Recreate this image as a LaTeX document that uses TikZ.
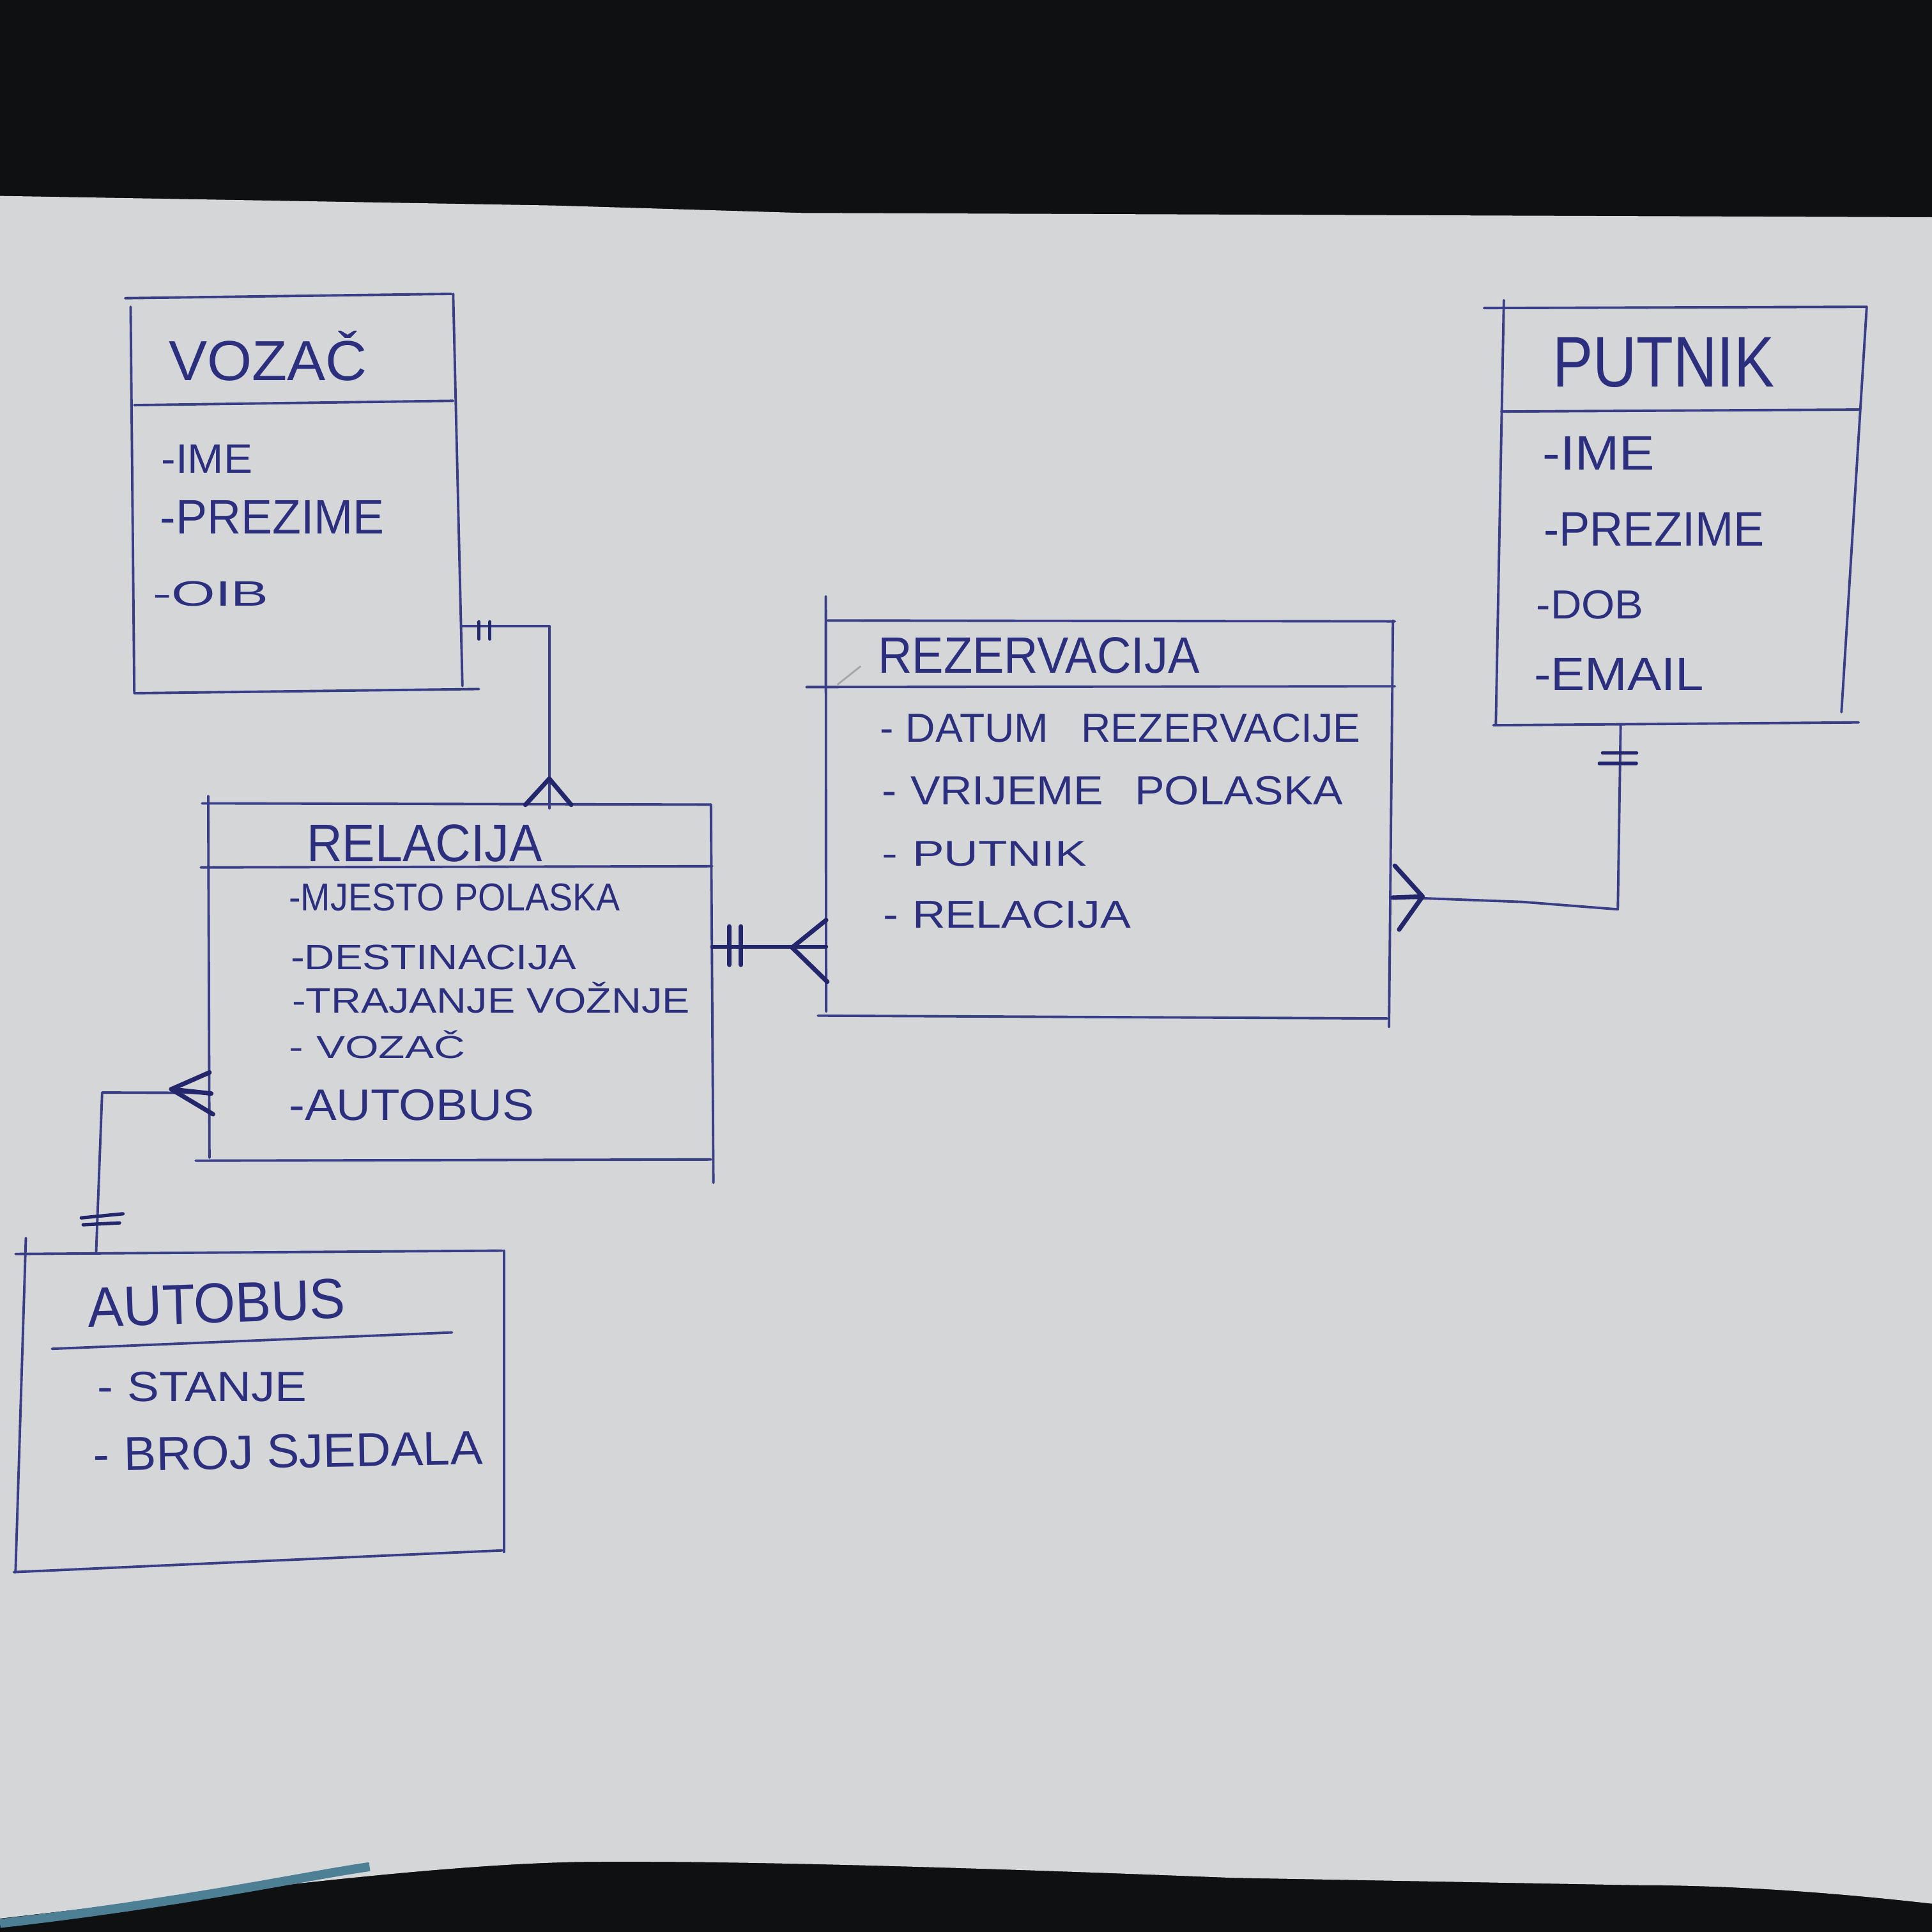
\documentclass[tikz,border=0pt]{standalone}
\usepackage{fontspec}
\setmainfont{Liberation Sans}
\usepackage{graphicx}
\newlength\ulen
\setlength\ulen{0.019286cm}
\newcommand\hw[3]{\resizebox{#1\ulen}{#2\ulen}{#3}}
\definecolor{paper}{HTML}{D4D6D8}
\definecolor{bgdark}{HTML}{0E1012}
\definecolor{inkline}{HTML}{3A3E86}
\definecolor{inktext}{HTML}{2C2F7E}
\definecolor{inkheavy}{HTML}{23266A}
\definecolor{tealedge}{HTML}{4D7F95}
\begin{document}
\begin{tikzpicture}[x=0.019286cm,y=-0.019286cm,
  boxline/.style={draw=inkline,line width=1.1pt,line cap=round,line join=round},
  crow/.style={draw=inkheavy,line width=2pt,line cap=round},
  bar/.style={draw=inkheavy,line width=1.5pt,line cap=round},
  lbl/.style={anchor=base west,inner sep=0pt,outer sep=0pt,text=inktext}]
\useasboundingbox (0,0) rectangle (1568,1568);
% background and paper
\fill[bgdark] (0,0) rectangle (1568,1568);
\fill[paper] (0,159) -- (450,166.8) -- (650,172.8) -- (1568,176.3) -- (1568,1545)
  .. controls (1480,1535) and (1400,1530) .. (1330,1530) -- (1000,1524)
  .. controls (800,1516) and (600,1510) .. (480,1511)
  .. controls (350,1512) and (150,1540) .. (0,1557) -- cycle;
\draw[tealedge,line width=4pt] (0,1561) .. controls (150,1544) and (250,1522) .. (300,1515);

% ---------- VOZAC ----------
\draw[boxline] (101.5,242) -- (366.3,238.5);
\draw[boxline] (106,249) -- (109,562.6);
\draw[boxline] (109,328.8) -- (367.8,325.3);
\draw[boxline] (367.8,238.5) -- (375.3,556.8);
\draw[boxline] (109,562.6) -- (388.7,559.2);
\node[lbl] (vozTitle) at (137,309) {\hw{161}{32}{VOZA\smash{Č}}};
\node[lbl] (vozA1) at (131,384) {\hw{74}{23}{-IME}};
\node[lbl] (vozA2) at (130,433) {\hw{182}{27}{-PREZIME}};
\node[lbl] (vozA3) at (124,492) {\hw{94}{20}{-OIB}};

% ---------- RELACIJA ----------
\draw[boxline] (164,652) -- (577,653);
\draw[boxline] (169,646) -- (170,939.6);
\draw[boxline] (163,704) -- (578,703);
\draw[boxline] (577,653) -- (579,960);
\draw[boxline] (158.8,942) -- (577,941);
\node[lbl] (relTitle) at (249,699) {\hw{191}{30}{RELACIJA}};
\node[lbl] (relA1) at (234.5,739) {\hw{269}{22}{-MJESTO POLASKA}};
\node[lbl] (relA2) at (236,787) {\hw{232}{20}{-DESTINACIJA}};
\node[lbl] (relA3) at (237,822) {\hw{323}{20}{-TRAJANJE VO\smash{Ž}NJE}};
\node[lbl] (relA4) at (234.5,859) {\hw{143}{18}{-\hspace{0.3em}VOZA\smash{Č}}};
\node[lbl] (relA5) at (234.5,909) {\hw{199}{25}{-AUTOBUS}};

% ---------- REZERVACIJA ----------
\draw[boxline] (670.2,484) -- (670.5,821);
\draw[boxline] (671.8,503.6) -- (1132,504.3);
\draw[boxline] (654.5,557.6) -- (1132,557);
\draw[boxline] (1130.5,503.6) -- (1127.3,833.5);
\draw[boxline] (663.9,824.3) -- (1125.8,826.6);
\draw[gray!70,line width=0.8pt] (679.6,555.7) -- (698.5,540.7);
\node[lbl] (rezTitle) at (712.6,546.5) {\hw{261}{29}{REZERVACIJA}};
\node[lbl] (rezA1) at (714,602) {\hw{390}{23}{-\hspace{0.3em}DATUM\hspace{0.8em}REZERVACIJE}};
\node[lbl] (rezA2) at (716,653) {\hw{374}{23}{-\hspace{0.3em}VRIJEME\hspace{0.7em}POLASKA}};
\node[lbl] (rezA3) at (716,703) {\hw{166}{20}{-\hspace{0.3em}PUTNIK}};
\node[lbl] (rezA4) at (717,753) {\hw{201}{22}{-\hspace{0.3em}RELACIJA}};

% ---------- PUTNIK ----------
\draw[boxline] (1204.4,250) -- (1515,249);
\draw[boxline] (1220.5,243.7) -- (1214,587.5);
\draw[boxline] (1218.4,334) -- (1509.6,332.4);
\draw[boxline] (1515,249) -- (1494.5,578);
\draw[boxline] (1212,588.6) -- (1508.5,586.3);
\node[lbl] (putTitle) at (1260,314) {\hw{180}{40}{PUTNIK}};
\node[lbl] (putA1) at (1252,381.5) {\hw{91}{27}{-IME}};
\node[lbl] (putA2) at (1253,443) {\hw{179}{27}{-PREZIME}};
\node[lbl] (putA3) at (1247,502) {\hw{87}{23}{-DOB}};
\node[lbl] (putA4) at (1245,560) {\hw{138}{26}{-EMAIL}};

% ---------- AUTOBUS ----------
\draw[boxline] (12.6,1017.7) -- (407.6,1015);
\draw[boxline] (21,1004.7) -- (12.6,1275.9);
\draw[boxline] (409,1015) -- (409,1259.6);
\draw[boxline] (11.2,1275.9) -- (407.6,1258.3);
\draw[boxline] (42.2,1094.7) -- (366.8,1081.4);
\node[lbl,rotate=2] (autTitle) at (72,1077) {\hw{209}{32}{AUTOBUS}};
\node[lbl] (autA1) at (79,1137.6) {\hw{170}{24}{-\hspace{0.3em}STANJE}};
\node[lbl,rotate=1] (autA2) at (76,1194) {\hw{316}{27}{-\hspace{0.3em}BROJ SJEDALA}};

% ---------- connection points ----------
\coordinate (vozR) at (375,508.2);
\coordinate (relT) at (446,656);
\coordinate (relR) at (578,768.3);
\coordinate (rezL) at (670.5,768.3);
\coordinate (putB) at (1315.3,588);
\coordinate (rezR) at (1128,728);
\coordinate (relL) at (171.5,887);
\coordinate (autT) at (78,1017);

% VOZAC -> RELACIJA
\draw[boxline] (vozR) -| (relT);
\draw[bar] (388.7,504.7) -- (388.7,518.6);
\draw[bar] (397.6,504.7) -- (397.6,518.6);
\draw[crow] (445.8,632) -- (426.4,653.2);
\draw[crow] (445.8,632) -- (463.6,653.2);

% RELACIJA -> REZERVACIJA
\draw[crow,line width=1.8pt] (relR) -- (rezL);
\draw[bar,line width=2pt] (591.9,751.9) -- (591.9,783);
\draw[bar,line width=2pt] (601.4,751.9) -- (601.4,783);
\draw[crow] (642.9,769) -- (670.5,746.7);
\draw[crow] (642.9,769) -- (671.4,796.8);

% PUTNIK -> REZERVACIJA
\draw[boxline] (putB) -- (1313,738) -- (1236,732) -- (rezR);
\draw[bar] (1300.6,611) -- (1328.2,611);
\draw[bar] (1298,619.6) -- (1328,619.6);
\draw[crow] (1154.5,727.6) -- (1132,702.6);
\draw[crow] (1154.5,727.6) -- (1135.5,754.4);
\draw[crow] (1154.5,727.6) -- (1130.4,728.5);

% RELACIJA -> AUTOBUS
\draw[boxline] (relL) -- (82.9,886.7) -- (autT);
\draw[crow] (139,884) -- (170,870.4);
\draw[crow] (139,884) -- (172.9,904.3);
\draw[crow] (139,884) -- (171.5,887.5);
\draw[bar] (66,988.4) -- (99.8,985.1);
\draw[bar] (67.5,994) -- (97,992.5);
\end{tikzpicture}
\end{document}
